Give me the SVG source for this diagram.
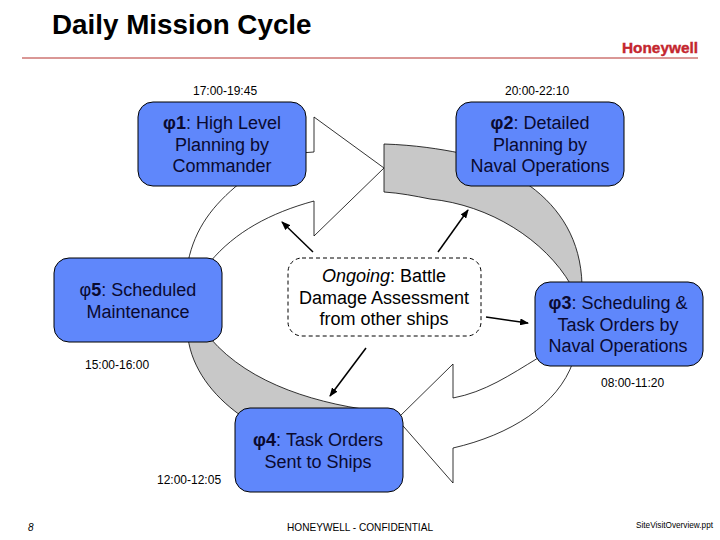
<svg xmlns="http://www.w3.org/2000/svg" width="720" height="540" viewBox="0 0 720 540">
<style>
text{font-family:"Liberation Sans",Arial,sans-serif;fill:#000}
.n{fill:#5f87fb;stroke:#000;stroke-width:1}
.t{font-size:18px;text-anchor:middle;fill:#0a0a30}
.h{font-size:12px}
.w{fill:#fff;stroke:#000;stroke-width:.8}
.g{fill:#c8c8c8;stroke:#000;stroke-width:.8}
.a{stroke:#000;stroke-width:1.5;fill:none;marker-end:url(#ah)}
</style>
<defs><marker id="ah" markerUnits="userSpaceOnUse" markerWidth="9" markerHeight="7" refX="8" refY="3.5" orient="auto"><path d="M0 0L9 3.5L0 7z" fill="#000"/></marker></defs>
<rect width="720" height="540" fill="#fff"/>
<text x="52" y="34" font-size="27.8" font-weight="bold">Daily Mission Cycle</text>
<path d="M22 58H698" stroke="#b5302c" stroke-width="1"/>
<text x="622" y="53" font-size="15" font-weight="bold" style="fill:#c4262e;stroke:#c4262e;stroke-width:.4" textLength="76" lengthAdjust="spacingAndGlyphs">Honeywell</text>
<g id="connectors">
<path class="g" d="M384 144C415 145 440 149 460 153L530 186C560 208 581 240 582 285L571 285C545 240 490 205 430 199C415 196 400 193 384 192Z"/>
<path class="w" d="M188 262C195 228 213 205 240 183L300 153L314 152V117L384 168L314 236V201C270 213 235 232 210 262Z"/>
<path class="g" d="M188 338C192 368 212 395 240 415L385 412C320 405 250 385 210 338Z"/>
<path class="w" d="M538 358C510 375 485 392 453 398V364L397 419L453 483V448C510 435 558 405 573 362Z"/>
<path class="a" d="M313 252L282 222"/>
<path class="a" d="M438 252L468 210"/>
<path class="a" d="M486 317L528 323"/>
<path class="a" d="M366 348L330 396"/>
</g>
<g id="phi1"><rect class="n" x="138" y="102" width="168" height="84" rx="15"/>
<text class="t" x="222" y="129"><tspan font-weight="bold">φ1</tspan>: High Level</text><text class="t" x="222" y="151">Planning by</text><text class="t" x="222" y="172">Commander</text></g>
<g id="phi2"><rect class="n" x="456" y="102" width="168" height="84" rx="15"/>
<text class="t" x="540" y="129"><tspan font-weight="bold">φ2</tspan>: Detailed</text><text class="t" x="540" y="151">Planning by</text><text class="t" x="540" y="172">Naval Operations</text></g>
<g id="phi3"><rect class="n" x="535" y="282" width="168" height="84" rx="15"/>
<text class="t" x="618" y="309"><tspan font-weight="bold">φ3</tspan>: Scheduling &amp;</text><text class="t" x="618" y="331">Task Orders by</text><text class="t" x="618" y="352">Naval Operations</text></g>
<g id="phi4"><rect class="n" x="235" y="408" width="168" height="84" rx="15"/>
<text class="t" x="318" y="446"><tspan font-weight="bold">φ4</tspan>: Task Orders</text><text class="t" x="318" y="468">Sent to Ships</text></g>
<g id="phi5"><rect class="n" x="54" y="258" width="168" height="84" rx="15"/>
<text class="t" x="138" y="296">φ<tspan font-weight="bold">5</tspan>: Scheduled</text><text class="t" x="138" y="318">Maintenance</text></g>
<g id="ongoing"><rect x="288" y="258" width="193" height="78" rx="14" fill="#fff" stroke="#000" stroke-dasharray="4 3"/>
<text class="t" x="384" y="282" style="fill:#000"><tspan font-style="italic">Ongoing</tspan>: Battle</text><text class="t" x="384" y="304" style="fill:#000">Damage Assessment</text><text class="t" x="384" y="325" style="fill:#000">from other ships</text></g>
<text class="h" x="193" y="95">17:00-19:45</text>
<text class="h" x="505" y="95">20:00-22:10</text>
<text class="h" x="85" y="369">15:00-16:00</text>
<text class="h" x="601" y="387">08:00-11:20</text>
<text class="h" x="157" y="484">12:00-12:05</text>
<text x="28" y="531" font-size="10" font-style="italic">8</text>
<text x="287" y="531" font-size="10.1">HONEYWELL - CONFIDENTIAL</text>
<text x="636" y="528" font-size="9" textLength="77" lengthAdjust="spacingAndGlyphs">SiteVisitOverview.ppt</text>
</svg>
